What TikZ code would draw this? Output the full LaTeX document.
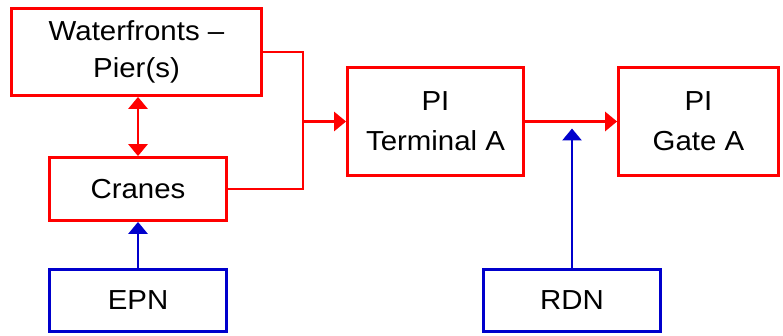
\documentclass[tikz,border=0pt]{standalone}
\usepackage{fontspec}
\setmainfont[FakeStretch=1.07]{Liberation Sans}
\usetikzlibrary{arrows.meta}
\definecolor{rd}{RGB}{255,0,0}
\definecolor{bl}{RGB}{0,0,204}
\tikzset{
  redbox/.style={draw=rd, line width=2.8pt, inner sep=0pt, align=center, font=\fontsize{27.5}{40}\selectfont},
  bluebox/.style={draw=bl, line width=2.8pt, inner sep=0pt, align=center, font=\fontsize{27.5}{40}\selectfont},
  redline/.style={draw=rd, line width=2.8pt},
  blueline/.style={draw=bl, line width=2.8pt},
  tip/.style={-{Triangle[length=12pt,width=19pt]}},
  dtip/.style={{Triangle[length=12pt,width=19pt]}-{Triangle[length=12pt,width=19pt]}}
}
\begin{document}
\begin{tikzpicture}[x=1pt,y=1pt]
\useasboundingbox (0,0) rectangle (783,335);
\node[redbox, minimum width=250pt, minimum height=87pt, font=\fontsize{27.5}{37}\selectfont] (wf) at (136.5,283) {Waterfronts –\\Pier(s)};
\node[redbox, minimum width=177pt, minimum height=63pt] (cr) at (138,146) {Cranes};
\node[bluebox, minimum width=177pt, minimum height=62pt] (ep) at (138,34.5) {EPN};
\node[redbox, minimum width=176pt, minimum height=108pt] (ta) at (435.5,213.5) {PI\\Terminal A};
\node[redbox, minimum width=160pt, minimum height=108pt] (ga) at (698.5,213.5) {PI\\Gate A};
\node[bluebox, minimum width=177pt, minimum height=62pt] (rn) at (572,34.5) {RDN};
\coordinate (j) at (303,213.5);
\coordinate (rt) at ([yshift=-7pt]rn.north |- ta.east);
\draw[redline] (wf.east) -| (j);
\draw[redline] (cr.east) -| (j);
\draw[redline, tip] (j) -- (ta.west);
\draw[redline, tip] (ta.east) -- (ga.west);
\draw[redline, dtip] (cr.north) -- (cr.north |- wf.south);
\draw[blueline, tip] (ep.north) -- (cr.south);
\draw[blueline, tip] (rn.north) -- (rt);
\end{tikzpicture}
\end{document}
